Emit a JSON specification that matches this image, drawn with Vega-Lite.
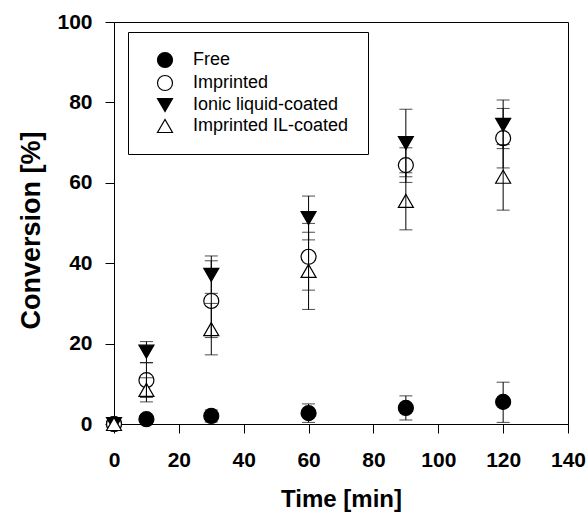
{
  "$schema": "https://vega.github.io/schema/vega-lite/v6.json",
  "width": 454,
  "height": 402,
  "autosize": "none",
  "padding": {"left": 114, "top": 22, "right": 19, "bottom": 89},
  "background": "white",
  "config": {
    "view": {"stroke": "black", "strokeWidth": 1},
    "axis": {
      "grid": false,
      "domainColor": "black",
      "tickColor": "black",
      "tickSize": 9,
      "labelFlush": false,
      "labelOverlap": false,
      "labelFont": "Liberation Sans",
      "labelFontWeight": "bold",
      "labelFontSize": 21,
      "labelColor": "black",
      "titleFont": "Liberation Sans",
      "titleFontWeight": "bold",
      "titleColor": "black"
    },
    "legend": {
      "title": null,
      "strokeColor": "black",
      "padding": 19,
      "symbolOffset": 9,
      "symbolSize": 225,
      "symbolStrokeColor": "black",
      "symbolStrokeWidth": 1.2,
      "labelFont": "Liberation Sans",
      "labelFontSize": 18,
      "labelColor": "black",
      "labelOffset": 19,
      "rowPadding": 3
    }
  },
  "datasets": {
    "pts": [
      {"series": "Free", "t": 0, "v": 0},
      {"series": "Free", "t": 10, "v": 1.2},
      {"series": "Free", "t": 30, "v": 2.0},
      {"series": "Free", "t": 60, "v": 2.7},
      {"series": "Free", "t": 90, "v": 4.0},
      {"series": "Free", "t": 120, "v": 5.5},
      {"series": "Imprinted", "t": 0, "v": 0},
      {"series": "Imprinted", "t": 10, "v": 10.9},
      {"series": "Imprinted", "t": 30, "v": 30.6},
      {"series": "Imprinted", "t": 60, "v": 41.6},
      {"series": "Imprinted", "t": 90, "v": 64.4},
      {"series": "Imprinted", "t": 120, "v": 71.1},
      {"series": "Ionic liquid-coated", "t": 0, "v": 0},
      {"series": "Ionic liquid-coated", "t": 10, "v": 18.0},
      {"series": "Ionic liquid-coated", "t": 30, "v": 37.1},
      {"series": "Ionic liquid-coated", "t": 60, "v": 51.2},
      {"series": "Ionic liquid-coated", "t": 90, "v": 69.9},
      {"series": "Ionic liquid-coated", "t": 120, "v": 74.4},
      {"series": "Imprinted IL-coated", "t": 0, "v": 0},
      {"series": "Imprinted IL-coated", "t": 10, "v": 8.5},
      {"series": "Imprinted IL-coated", "t": 30, "v": 23.6},
      {"series": "Imprinted IL-coated", "t": 60, "v": 38.1},
      {"series": "Imprinted IL-coated", "t": 90, "v": 55.5},
      {"series": "Imprinted IL-coated", "t": 120, "v": 61.5}
    ],
    "errs": [
      {"series": "Free", "t": 10, "lo": 0.3, "hi": 2.1},
      {"series": "Free", "t": 30, "lo": 0.5, "hi": 3.5},
      {"series": "Free", "t": 60, "lo": 0.4, "hi": 5.0},
      {"series": "Free", "t": 90, "lo": 1.0, "hi": 7.0},
      {"series": "Free", "t": 120, "lo": 0.4, "hi": 10.4},
      {"series": "Imprinted", "t": 10, "lo": 6.6, "hi": 15.2},
      {"series": "Imprinted", "t": 30, "lo": 21.5, "hi": 40.6},
      {"series": "Imprinted", "t": 60, "lo": 33.3, "hi": 49.9},
      {"series": "Imprinted", "t": 90, "lo": 60.1, "hi": 68.7},
      {"series": "Imprinted", "t": 120, "lo": 63.7, "hi": 78.5},
      {"series": "Ionic liquid-coated", "t": 10, "lo": 15.3, "hi": 20.5},
      {"series": "Ionic liquid-coated", "t": 30, "lo": 32.5, "hi": 41.8},
      {"series": "Ionic liquid-coated", "t": 60, "lo": 45.8, "hi": 56.7},
      {"series": "Ionic liquid-coated", "t": 90, "lo": 61.5, "hi": 78.3},
      {"series": "Ionic liquid-coated", "t": 120, "lo": 68.5, "hi": 80.6},
      {"series": "Imprinted IL-coated", "t": 10, "lo": 5.5, "hi": 11.5},
      {"series": "Imprinted IL-coated", "t": 30, "lo": 17.2, "hi": 30.0},
      {"series": "Imprinted IL-coated", "t": 60, "lo": 28.5, "hi": 47.7},
      {"series": "Imprinted IL-coated", "t": 90, "lo": 48.3, "hi": 62.5},
      {"series": "Imprinted IL-coated", "t": 120, "lo": 53.2, "hi": 69.5}
    ]
  },
  "layer": [
    {
      "data": {"name": "pts"},
      "mark": {"type": "point", "filled": true, "strokeWidth": 1.2, "opacity": 1, "size": 225, "clip": false},
      "encoding": {
        "x": {"field": "t", "type": "quantitative", "title": "Time [min]", "scale": {"domain": [0, 140], "nice": false, "zero": false},
          "axis": {"values": [0, 20, 40, 60, 80, 100, 120, 140], "titleFontSize": 24, "labelPadding": 16, "titlePadding": 17}},
        "y": {"field": "v", "type": "quantitative", "title": "Conversion [%]", "scale": {"domain": [0, 100], "nice": false, "zero": false},
          "axis": {"values": [0, 20, 40, 60, 80, 100], "titleFontSize": 27, "labelPadding": 13, "titlePadding": 11, "titleY": 208}},
        "shape": {"field": "series", "type": "nominal",
          "scale": {"domain": ["Free", "Imprinted", "Ionic liquid-coated", "Imprinted IL-coated"], "range": ["circle", "circle", "triangle-down", "triangle-up"]},
          "legend": {"orient": "none", "legendX": 14, "legendY": 10}},
        "fill": {"field": "series", "type": "nominal",
          "scale": {"domain": ["Free", "Imprinted", "Ionic liquid-coated", "Imprinted IL-coated"], "range": ["black", "white", "black", "white"]},
          "legend": {"orient": "none", "legendX": 14, "legendY": 10}},
        "stroke": {"field": "series", "type": "nominal",
          "scale": {"domain": ["Free", "Imprinted", "Ionic liquid-coated", "Imprinted IL-coated"], "range": ["black", "black", "black", "black"]},
          "legend": {"orient": "none", "legendX": 14, "legendY": 10}}
      }
    },
    {
      "data": {"name": "errs"},
      "mark": {"type": "errorbar", "color": "black", "thickness": 1, "ticks": {"size": 13, "color": "black", "thickness": 1}},
      "encoding": {
        "x": {"field": "t", "type": "quantitative", "title": "Time [min]"},
        "y": {"field": "lo", "type": "quantitative", "title": "Conversion [%]"},
        "y2": {"field": "hi"}
      }
    }
  ]
}
